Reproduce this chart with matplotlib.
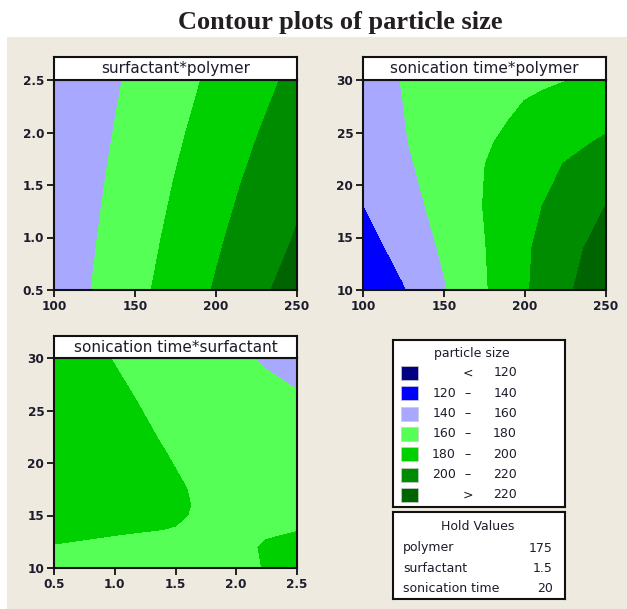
import numpy as np
import matplotlib
matplotlib.use("Agg")
import matplotlib.pyplot as plt
from matplotlib.patches import Rectangle

# figure size in pixels
W, H = 627, 609

# class limits and colours of the particle size legend
bounds = [120, 140, 160, 180, 200, 220]
colors = ['#000080', '#0000FF', '#A8A8FF', '#55FF55', '#00D000', '#008C00', '#006400']

# surfactant*polymer (sonication time held at 20)
polymer = [100, 125, 150, 175, 200, 225, 250]
surfactant_rows = [0.5, 1.0, 1.5, 2.0, 2.5]
size_surf_poly = [
    [147.6, 161.1, 174.6, 188.1, 201.7, 215.2, 228.7],
    [146.4, 159.1, 171.8, 184.5, 197.2, 209.9, 221.3],
    [145.2, 157.1, 169.0, 180.9, 192.8, 204.7, 216.6],
    [143.9, 155.0, 166.1, 177.2, 188.3, 199.4, 210.5],
    [142.7, 153.0, 163.3, 173.6, 183.9, 194.2, 204.5],
]

# sonication time*polymer (surfactant held at 1.5)
time_rows = [10, 14, 18, 22, 24, 26, 28, 29, 30]
size_time_poly = [
    [121.0, 138.6, 158.5, 178.2, 197.9, 216.5, 235.0],
    [131.4, 147.0, 162.7, 179.3, 197.3, 213.1, 228.3],
    [139.7, 152.7, 166.3, 180.7, 194.4, 207.6, 220.2],
    [146.0, 157.1, 168.4, 179.8, 190.2, 200.7, 209.0],
    [149.1, 158.8, 168.4, 178.1, 186.6, 194.8, 203.0],
    [151.4, 159.6, 167.8, 175.9, 183.2, 189.6, 196.0],
    [153.7, 160.1, 166.6, 173.1, 180.2, 186.0, 192.5],
    [154.7, 160.3, 166.1, 171.8, 177.6, 183.3, 188.5],
    [155.8, 160.4, 165.1, 169.8, 174.5, 179.5, 184.0],
]

# sonication time*surfactant (polymer held at 175)
surfactant_cols = [0.5, 0.8, 1.1, 1.4, 1.7, 2.0, 2.25, 2.5]
time_rows3 = [10, 12, 14, 15, 16, 17.5, 19, 22, 26, 30]
size_time_surf = [
    [177.0, 176.5, 176.0, 175.8, 176.0, 177.5, 180.5, 183.5],
    [179.6, 179.0, 178.3, 177.0, 177.0, 178.0, 180.8, 182.0],
    [182.5, 181.6, 181.0, 180.6, 178.8, 178.2, 178.6, 179.3],
    [184.0, 183.0, 182.2, 181.4, 179.3, 178.0, 177.7, 178.0],
    [185.5, 184.0, 182.8, 181.8, 179.4, 177.3, 176.8, 176.8],
    [186.5, 184.8, 183.2, 181.7, 179.1, 176.5, 175.5, 174.8],
    [187.5, 185.5, 183.5, 181.4, 178.0, 175.5, 174.0, 172.5],
    [188.0, 185.5, 182.7, 179.7, 176.5, 173.5, 171.0, 168.0],
    [187.5, 184.5, 181.0, 177.0, 173.5, 170.0, 166.5, 163.0],
    [186.0, 182.2, 178.2, 174.0, 169.5, 163.5, 157.5, 151.0],
]

hold_names = ['polymer', 'surfactant', 'sonication time']
hold_values = ['175', '1.5', '20']

bg = '#EFEAE0'
ink = '#1C1C2C'


def px_box(x0, y0, x1, y1):
    return [x0 / W, 1 - y1 / H, (x1 - x0) / W, (y1 - y0) / H]


def style_frame(ax):
    for s in ax.spines.values():
        s.set_linewidth(1.5)
        s.set_color('#111111')


def contour_panel(fig, plot_box, head_box, x, y, z, title, xticks, yticks, xfmt, yfmt):
    ax = fig.add_axes(px_box(*plot_box))
    levels = [0] + bounds + [1000]
    ax.contourf(x, y, np.array(z), levels=levels, colors=colors, antialiased=False)
    ax.set_xlim(x[0], x[-1])
    ax.set_ylim(y[0], y[-1])
    ax.set_xticks(xticks)
    ax.set_yticks(yticks)
    ax.set_xticklabels([xfmt % v for v in xticks])
    ax.set_yticklabels([yfmt % v for v in yticks])
    ax.tick_params(direction='out', length=5, width=1.3, pad=2, labelsize=8.7,
                   colors='#111111', labelcolor=ink)
    plt.setp(ax.get_xticklabels() + ax.get_yticklabels(), fontweight='bold')
    style_frame(ax)

    head = fig.add_axes(px_box(*head_box))
    head.set_xticks([])
    head.set_yticks([])
    head.set_facecolor('white')
    style_frame(head)
    head.text(0.5, 0.48, title, ha='center', va='center', fontsize=11,
              color=ink, transform=head.transAxes)
    return ax


fig = plt.figure(figsize=(W / 100, H / 100), dpi=100, facecolor='white')
fig.patches.append(Rectangle((7 / W, 0), 1 - 7 / W, 1 - 37 / H, transform=fig.transFigure,
                             facecolor=bg, edgecolor='none', zorder=-10))

fig.text(340 / W, 1 - 22 / H, 'Contour plots of particle size', ha='center', va='center',
         fontsize=19, fontweight='bold', family='Liberation Serif', color='#231F20')

contour_panel(fig, (54, 80, 297, 290), (54, 57, 297, 80), polymer, surfactant_rows,
              size_surf_poly, 'surfactant*polymer', [100, 150, 200, 250],
              [0.5, 1.0, 1.5, 2.0, 2.5], '%d', '%.1f')
contour_panel(fig, (363, 80, 606, 290), (363, 57, 606, 80), polymer, time_rows,
              size_time_poly, 'sonication time*polymer', [100, 150, 200, 250],
              [10, 15, 20, 25, 30], '%d', '%d')
contour_panel(fig, (54, 358, 297, 568), (54, 336, 297, 358), surfactant_cols, time_rows3,
              size_time_surf, 'sonication time*surfactant', [0.5, 1.0, 1.5, 2.0, 2.5],
              [10, 15, 20, 25, 30], '%.1f', '%d')

# legend box, coordinates inside are pixels from its top-left corner
leg = fig.add_axes(px_box(393, 340, 565, 507))
leg.set_xlim(0, 172)
leg.set_ylim(167, 0)
leg.set_xticks([])
leg.set_yticks([])
leg.set_facecolor('white')
style_frame(leg)
leg.text(79, 14, 'particle size', ha='center', va='center', fontsize=9, color=ink)
for i, c in enumerate(colors):
    yc = 33 + i * 20.3
    leg.add_patch(Rectangle((8, yc - 7), 17, 14, facecolor=c, edgecolor='#cccccc', lw=0.5))
    if i == 0:
        lo, sep, hi = '', '<', bounds[0]
    elif i == len(colors) - 1:
        lo, sep, hi = '', '>', bounds[-1]
    else:
        lo, sep, hi = str(bounds[i - 1]), '\u2013', bounds[i]
    leg.text(63, yc, lo, ha='right', va='center', fontsize=9, color=ink)
    leg.text(75, yc, sep, ha='center', va='center', fontsize=9, color=ink)
    leg.text(124, yc, str(hi), ha='right', va='center', fontsize=9, color=ink)

hold = fig.add_axes(px_box(393, 512, 565, 599))
hold.set_xlim(0, 172)
hold.set_ylim(87, 0)
hold.set_xticks([])
hold.set_yticks([])
hold.set_facecolor('white')
style_frame(hold)
hold.text(85, 15, 'Hold Values', ha='center', va='center', fontsize=9, color=ink)
for i, (name, val) in enumerate(zip(hold_names, hold_values)):
    yc = 36 + i * 20
    hold.text(10, yc, name, ha='left', va='center', fontsize=9, color=ink)
    hold.text(160, yc, val, ha='right', va='center', fontsize=9, color=ink)

fig.savefig('out.png', dpi=100, facecolor='white')
